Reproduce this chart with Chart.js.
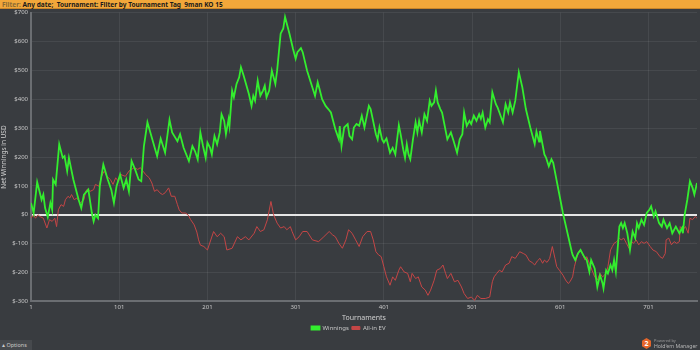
<!DOCTYPE html>
<html>
<head>
<meta charset="utf-8">
<script src="https://cdn.jsdelivr.net/npm/chart.js@4.4.1/dist/chart.umd.min.js"></script>
<style>
    html, body { margin: 0; padding: 0; background: #393c40; width: 700px; height: 350px; overflow: hidden; font-family: "Noto Sans", sans-serif; }
    #header { position: absolute; left: 0; top: 0; width: 700px; height: 9px; background: #f2a73a; border-bottom: 1px solid #c9852a; font-size: 6.5px; line-height: 9px; color: #1a1a1a; font-weight: bold; padding-left: 2px; box-sizing: border-box; white-space: pre; z-index: 2; }
    #header span { color: #8a6a33; }
    #wrap { position: absolute; left: 0; top: 6px; width: 700px; height: 335px; }
    #options { position: absolute; left: 0; top: 340px; width: 32px; height: 10px; background: #46494d; color: #c8c8c8; font-size: 5.5px; line-height: 10px; padding-left: 2px; box-sizing: border-box; }
    #logo { position: absolute; left: 642px; top: 337px; width: 58px; height: 13px; }
    #hex { position: absolute; left: 0; top: 1px; width: 9px; height: 11px; background: #e4652a; clip-path: polygon(50% 0, 100% 25%, 100% 75%, 50% 100%, 0 75%, 0 25%); color: #fff; font-size: 7px; font-weight: bold; text-align: center; line-height: 11px; }
    #pb { position: absolute; left: 12px; top: 1px; font-size: 4px; color: #9a9a9a; }
    #hm { position: absolute; left: 12px; top: 5px; font-size: 5.2px; color: #b5b5b5; white-space: nowrap; }
</style>
</head>
<body>
<div id="header"><span>Filter: </span>Any date;  Tournament: Filter by Tournament Tag  9man KO 15</div>
<div id="wrap"><canvas id="chart"></canvas></div>
<div id="options">&#9652; Options</div>
<div id="logo"><div id="hex">2</div><div id="pb">Powered by</div><div id="hm">Hold'em Manager</div></div>
<script>
"use strict";

// Tick labels on the x axis (tournament numbers)
const tournamentTicks = [1, 101, 201, 301, 401, 501, 601, 701];

// Winnings: tournament number and net winnings in USD
const winningsT = [1, 4, 8, 13, 15, 17, 20, 23, 25, 26, 29, 33, 37, 39, 42, 44, 49, 51, 55, 58,
    61, 66, 70, 72, 74, 77, 79, 83, 88, 92, 95, 98, 102, 106, 109, 112, 115, 119, 123, 126,
    129, 133, 138, 144, 148, 153, 158, 161, 167, 170, 174, 180, 184, 187, 190, 193, 196, 199, 201, 204,
    206, 209, 212, 215, 217, 220, 222, 225, 226, 229, 231, 234, 237, 239, 242, 248, 251, 253, 255, 258,
    261, 264, 266, 268, 271, 274, 276, 278, 280, 284, 287, 289, 294, 298, 301, 303, 307, 309, 314, 320,
    323, 326, 328, 331, 335, 338, 341, 346, 350, 351, 353, 356, 360, 362, 365, 367, 370, 373, 376, 379,
    384, 386, 388, 392, 394, 396, 399, 401, 404, 408, 411, 414, 418, 420, 423, 425, 427, 429, 431, 434,
    437, 439, 441, 444, 447, 450, 453, 455, 458, 460, 462, 465, 467, 473, 477, 480, 484, 487, 490, 492,
    495, 498, 500, 503, 506, 509, 511, 513, 516, 519, 521, 524, 528, 530, 532, 536, 539, 542, 544, 547,
    550, 554, 558, 562, 567, 572, 574, 577, 578, 583, 585, 588, 591, 593, 604, 614, 615, 618, 621, 624,
    628, 631, 634, 636, 640, 643, 646, 649, 650, 653, 655, 658, 660, 662, 664, 668, 670, 672, 674, 677,
    680, 683, 686, 688, 690, 693, 696, 699, 702, 704, 707, 709, 713, 716, 718, 722, 725, 728, 732, 736,
    739, 740, 742, 745, 748, 751, 753, 756];
const winningsV = [41, 6, 113, 52, 70, 23, -8, 41, 17, 122, 105, 244, 197, 203, 151, 197, 122, 99, 52, 23,
    70, 87, 6, -23, 0, -12, 99, 174, 122, 87, 41, 99, 139, 93, 122, 81, 186, 157, 122, 116,
    238, 320, 267, 203, 264, 215, 329, 285, 255, 279, 232, 186, 238, 220, 192, 285, 238, 197, 250, 232,
    209, 273, 244, 285, 348, 325, 279, 331, 308, 430, 407, 453, 476, 511, 482, 418, 377, 412, 395, 464,
    412, 430, 447, 407, 430, 499, 476, 453, 499, 627, 645, 685, 627, 575, 540, 563, 577, 563, 499, 441,
    412, 459, 436, 400, 377, 366, 354, 296, 261, 307, 238, 302, 314, 273, 261, 302, 314, 308, 343, 302,
    377, 366, 337, 279, 261, 302, 261, 250, 264, 215, 232, 209, 310, 279, 226, 197, 244, 209, 192, 261,
    320, 285, 325, 285, 348, 325, 395, 377, 389, 430, 389, 366, 354, 261, 285, 256, 215, 261, 279, 354,
    308, 325, 314, 343, 325, 348, 332, 354, 302, 331, 320, 424, 383, 371, 354, 320, 383, 354, 389, 354,
    395, 494, 441, 366, 302, 245, 288, 253, 290, 209, 197, 168, 192, 180, 6, -128, -139, -157, -134, -122,
    -145, -157, -197, -157, -186, -250, -209, -238, -255, -192, -203, -174, -192, -157, -197, -41, -29, -46, -29, -64,
    -122, -58, -81, -29, -46, -17, -35, 6, 17, 29, -6, 12, -29, -41, -17, -46, -29, -64, -41, -64,
    -46, -64, 0, 52, 116, 93, 70, 110];

// All-in EV
const evT = [1, 4, 6, 9, 11, 15, 19, 22, 25, 28, 30, 32, 35, 38, 40, 43, 45, 47, 50, 53,
    57, 61, 63, 65, 68, 72, 74, 78, 81, 84, 87, 91, 94, 97, 100, 103, 108, 112, 115, 118,
    122, 125, 128, 131, 135, 138, 141, 144, 147, 150, 153, 157, 160, 164, 167, 169, 172, 176, 179, 182,
    186, 189, 191, 193, 197, 201, 208, 212, 216, 220, 223, 229, 235, 239, 244, 248, 254, 257, 261, 265,
    269, 273, 276, 280, 284, 288, 291, 295, 297, 301, 305, 309, 314, 320, 327, 333, 339, 343, 346, 350,
    354, 358, 361, 365, 369, 373, 377, 382, 386, 389, 392, 395, 398, 401, 404, 408, 411, 414, 418, 420,
    424, 428, 431, 433, 437, 440, 444, 448, 451, 454, 458, 461, 465, 468, 471, 473, 477, 481, 485, 489,
    492, 496, 500, 504, 507, 511, 516, 521, 524, 526, 529, 532, 535, 539, 543, 546, 550, 555, 559, 562,
    566, 569, 572, 575, 578, 581, 583, 586, 589, 592, 595, 597, 600, 604, 607, 610, 612, 615, 617, 620,
    623, 626, 629, 631, 634, 637, 640, 643, 646, 649, 653, 655, 658, 660, 662, 665, 668, 670, 673, 676,
    679, 682, 684, 687, 690, 693, 696, 699, 703, 706, 710, 714, 717, 720, 721, 724, 727, 730, 733, 736,
    737, 740, 743, 746, 748, 751, 754, 756];
const evV = [-12, 0, -12, 0, -6, -12, -46, -17, -23, -12, -41, 17, 35, 29, 52, 64, 58, 70, 52, 58,
    41, 52, 81, 89, 81, 87, 105, 99, 133, 151, 133, 122, 105, 128, 116, 139, 133, 151, 157, 163,
    157, 163, 151, 139, 128, 110, 81, 87, 76, 70, 76, 93, 64, 64, 35, 17, 6, 6, 0, -17,
    -35, -60, -87, -105, -110, -122, -58, -76, -64, -76, -122, -116, -76, -87, -76, -87, -64, -41, -58, -52,
    -17, 46, 0, -29, -46, -41, -52, -41, -58, -87, -76, -58, -58, -87, -93, -76, -58, -70, -76, -99,
    -116, -87, -52, -64, -87, -110, -76, -58, -58, -87, -128, -139, -145, -180, -215, -244, -215, -227, -192, -180,
    -198, -203, -232, -203, -221, -215, -250, -261, -279, -261, -227, -192, -186, -174, -203, -221, -203, -232, -227, -250,
    -273, -290, -285, -296, -279, -290, -290, -285, -232, -215, -203, -192, -198, -174, -168, -145, -151, -128, -134, -139,
    -160, -165, -174, -160, -151, -168, -157, -165, -151, -110, -151, -180, -192, -209, -226, -238, -232, -215, -180, -145,
    -122, -134, -157, -145, -168, -192, -215, -226, -203, -215, -203, -180, -122, -110, -99, -93, -81, -87, -81, -99,
    -116, -93, -99, -87, -104, -93, -99, -93, -110, -122, -128, -145, -151, -134, -87, -81, -104, -93, -99, -93,
    -41, -52, -41, -64, -12, -17, -6, -12];

function toPoints(xs, ys) {
    return xs.map(function (x, i) { return { x: x, y: ys[i] }; });
}

const ctx = document.getElementById('chart');
new Chart(ctx, {
    type: 'line',
    data: {
        datasets: [
            {
                label: 'Winnings',
                data: toPoints(winningsT, winningsV),
                borderColor: '#33ee2e',
                backgroundColor: '#33ee2e',
                borderWidth: 1.8,
                pointRadius: 0,
                tension: 0
            },
            {
                label: 'All-in EV',
                data: toPoints(evT, evV),
                borderColor: '#c44646',
                backgroundColor: '#c44646',
                borderWidth: 1,
                pointRadius: 0,
                tension: 0
            }
        ]
    },
    options: {
        responsive: true,
        maintainAspectRatio: false,
        animation: false,
        layout: { padding: { top: 0, right: 3, left: 0, bottom: 0 } },
        plugins: {
            tooltip: { enabled: false },
            legend: {
                position: 'bottom',
                labels: {
                    color: '#c8c8c8',
                    font: { size: 6, family: 'Noto Sans' },
                    boxWidth: 8,
                    boxHeight: 3,
                    padding: 3
                }
            }
        },
        scales: {
            x: {
                type: 'linear',
                min: 1,
                max: 756,
                afterBuildTicks: function (scale) {
                    scale.ticks = tournamentTicks.map(function (v) { return { value: v }; });
                },
                ticks: {
                    color: '#c8c8c8',
                    font: { size: 6, family: 'Noto Sans' },
                    maxRotation: 0,
                    padding: 2
                },
                grid: { color: 'rgba(255,255,255,0.07)', tickLength: 0 },
                border: { color: '#6b6e72', width: 2 },
                title: {
                    display: true,
                    text: 'Tournaments',
                    color: '#d0d0d0',
                    font: { size: 7, family: 'Noto Sans' },
                    padding: { top: 1, bottom: 0 }
                }
            },
            y: {
                min: -300,
                max: 700,
                afterFit: function (scale) { scale.width = 31; },
                ticks: {
                    stepSize: 100,
                    color: '#c8c8c8',
                    font: { size: 6, family: 'Noto Sans' },
                    padding: 3,
                    callback: function (v) { return '$' + v; }
                },
                grid: {
                    tickLength: 0,
                    color: function (c) { return c.tick && c.tick.value === 0 ? '#e6e6e6' : 'rgba(255,255,255,0.07)'; },
                    lineWidth: function (c) { return c.tick && c.tick.value === 0 ? 2 : 1; }
                },
                border: { color: '#6b6e72', width: 2 },
                title: {
                    display: true,
                    text: 'Net Winnings in USD',
                    color: '#d0d0d0',
                    font: { size: 6.5, family: 'Noto Sans' },
                    padding: 0
                }
            }
        }
    }
});
</script>
</body>
</html>
